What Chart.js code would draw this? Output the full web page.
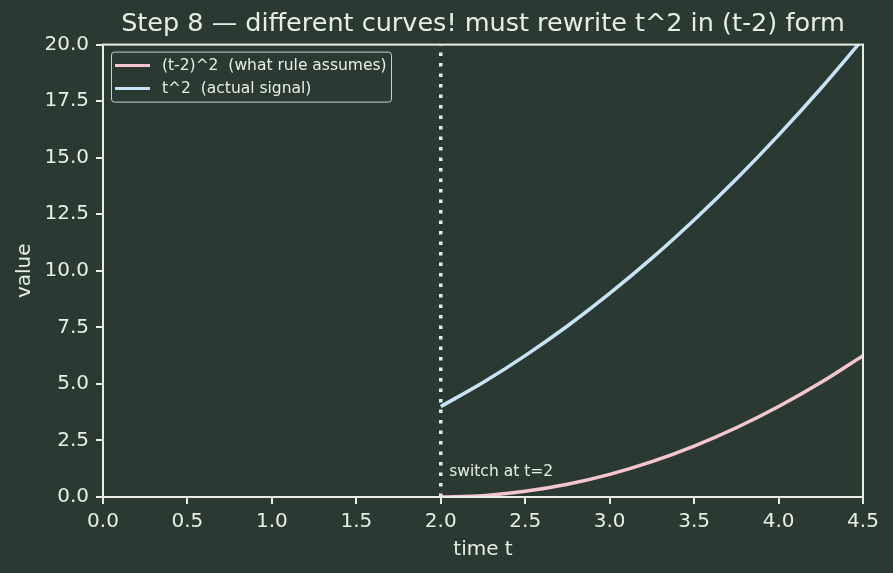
<!DOCTYPE html>
<html>
<head>
<meta charset="utf-8">
<script src="https://cdn.jsdelivr.net/npm/chart.js@4/dist/chart.umd.min.js"></script>
<style>
  html, body { margin: 0; padding: 0; background: #2a3a33; }
  #wrap { width: 893px; height: 573px; }
</style>
</head>
<body>
<div id="wrap"><canvas id="chart" width="893" height="573"></canvas></div>
<script>
// values
const tValues = [2.0, 2.25, 2.5, 2.75, 3.0, 3.25, 3.5, 3.75, 4.0, 4.25, 4.5];
const shiftedValues = [0, 0.06, 0.25, 0.56, 1.0, 1.56, 2.25, 3.06, 4.0, 5.06, 6.25];
const actualValues = [4.0, 5.06, 6.25, 7.56, 9.0, 10.56, 12.25, 14.06, 16.0, 18.06, 20.25];
const switchX = [2.0, 2.0];
const switchY = [0, 20];
const xTicks = [0, 0.5, 1, 1.5, 2, 2.5, 3, 3.5, 4, 4.5];
const yTicks = [0, 2.5, 5, 7.5, 10, 12.5, 15, 17.5, 20];
const seriesLabels = ["(t-2)^2  (what rule assumes)", "t^2  (actual signal)"];

const BG = "#2a3a33";
const FG = "#e8eee6";
const PINK = "#f6c5d2";
const BLUE = "#c8e3f6";
const FONT = "'DejaVu Sans', sans-serif";

function toPoints(xs, ys) {
  return xs.map((x, i) => ({ x: x, y: ys[i] }));
}

const framePlugin = {
  id: "frame",
  beforeDraw(chart) {
    const ctx = chart.ctx;
    ctx.save();
    ctx.fillStyle = BG;
    ctx.fillRect(0, 0, chart.width, chart.height);
    ctx.restore();
  },
  afterDatasetsDraw(chart) {
    const { ctx, chartArea: a, scales } = chart;
    ctx.save();
    ctx.strokeStyle = FG;
    ctx.lineWidth = 2;
    ctx.strokeRect(a.left, a.top, a.right - a.left, a.bottom - a.top);

    // annotation next to the dotted line
    ctx.fillStyle = FG;
    ctx.font = "15.5px " + FONT;
    ctx.textBaseline = "alphabetic";
    ctx.fillText("switch at t=2", scales.x.getPixelForValue(2.05), scales.y.getPixelForValue(1.0) + 2);

    // legend box
    const lx = a.left + 8, ly = a.top + 7, lw = 280, lh = 50;
    ctx.fillStyle = "rgba(42,58,51,0.85)";
    ctx.strokeStyle = "#c9cfc9";
    ctx.lineWidth = 1;
    ctx.beginPath();
    ctx.roundRect(lx + 0.5, ly + 0.5, lw, lh, 3);
    ctx.fill();
    ctx.stroke();
    const colors = [PINK, BLUE];
    ctx.font = "15.5px " + FONT;
    ctx.textBaseline = "middle";
    seriesLabels.forEach((label, i) => {
      const y = ly + 14 + i * 23;
      ctx.strokeStyle = colors[i];
      ctx.lineWidth = 3;
      ctx.beginPath();
      ctx.moveTo(lx + 4, y);
      ctx.lineTo(lx + 39, y);
      ctx.stroke();
      ctx.fillStyle = FG;
      ctx.fillText(label, lx + 51, y);
    });
    ctx.restore();
  }
};

new Chart(document.getElementById("chart"), {
  type: "line",
  data: {
    datasets: [
      {
        label: seriesLabels[0],
        data: toPoints(tValues, shiftedValues),
        borderColor: PINK,
        borderWidth: 3.5,
        pointRadius: 0,
        cubicInterpolationMode: "monotone",
        fill: false
      },
      {
        label: seriesLabels[1],
        data: toPoints(tValues, actualValues),
        borderColor: BLUE,
        borderWidth: 3.5,
        pointRadius: 0,
        cubicInterpolationMode: "monotone",
        fill: false
      },
      {
        label: "switch",
        data: toPoints(switchX, switchY),
        borderColor: FG,
        borderWidth: 3.5,
        borderDash: [3.5, 7],
        pointRadius: 0,
        fill: false
      }
    ]
  },
  options: {
    responsive: false,
    animation: false,
    layout: { padding: { top: 0, right: 30, bottom: 0, left: 0 } },
    plugins: {
      legend: { display: false },
      tooltip: { enabled: false },
      title: {
        display: true,
        text: "Step 8 — different curves! must rewrite t^2 in (t-2) form",
        color: FG,
        fullSize: false,
        font: { family: FONT, size: 25.5, weight: "normal" },
        padding: { top: 9, bottom: 5 }
      }
    },
    scales: {
      x: {
        type: "linear",
        min: 0,
        max: 4.5,
        afterBuildTicks(scale) { scale.ticks = xTicks.map(v => ({ value: v })); },
        afterFit(scale) { scale.height = 76; },
        ticks: {
          color: FG,
          font: { family: FONT, size: 20 },
          padding: 6,
          maxRotation: 0,
          callback: v => v.toFixed(1)
        },
        grid: { display: true, drawOnChartArea: false, drawTicks: true, tickLength: 7, color: FG, lineWidth: 2 },
        border: { display: true, color: FG, width: 2 },
        title: { display: true, text: "time t", color: FG, font: { family: FONT, size: 20 }, padding: { top: 0, bottom: 11 } }
      },
      y: {
        type: "linear",
        min: 0,
        max: 20,
        afterBuildTicks(scale) { scale.ticks = yTicks.map(v => ({ value: v })); },
        afterFit(scale) { scale.width = 103; },
        ticks: {
          color: FG,
          font: { family: FONT, size: 20 },
          padding: 7,
          callback: v => v.toFixed(1)
        },
        grid: { display: true, drawOnChartArea: false, drawTicks: true, tickLength: 7, color: FG, lineWidth: 2 },
        border: { display: true, color: FG, width: 2 },
        title: { display: true, text: "value", color: FG, font: { family: FONT, size: 20 }, padding: { top: 13, bottom: 0 } }
      }
    }
  },
  plugins: [framePlugin]
});
</script>
</body>
</html>
